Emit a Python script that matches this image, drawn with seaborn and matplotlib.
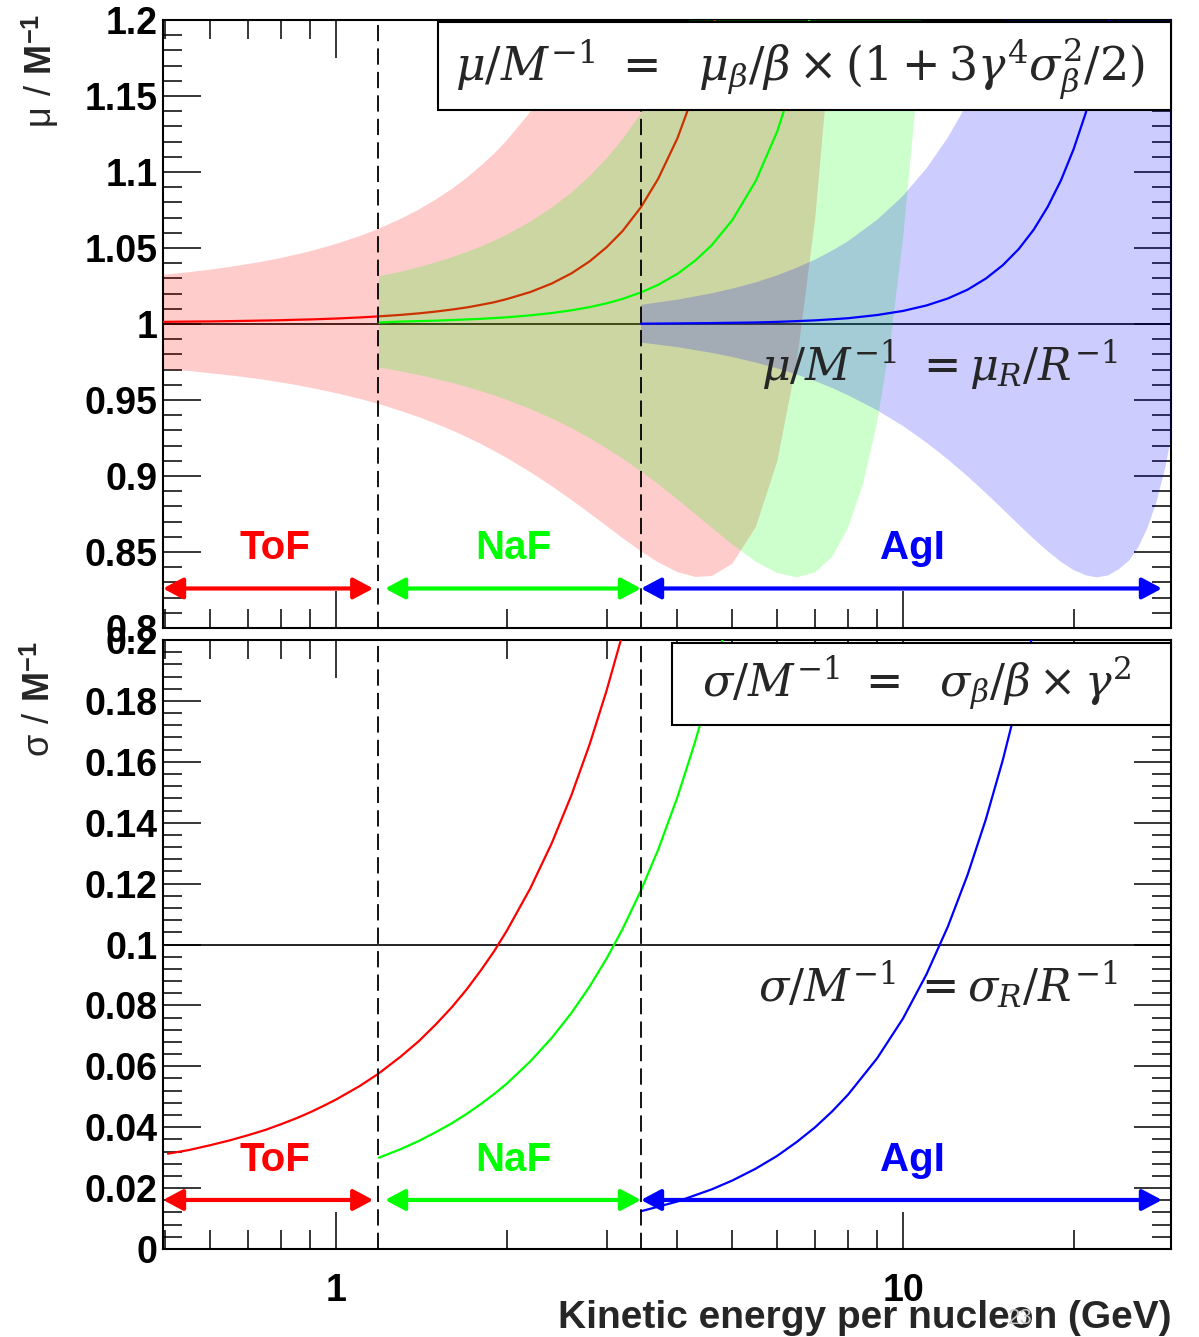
import numpy as np
import pandas as pd
import matplotlib
matplotlib.use("Agg")
import matplotlib.pyplot as plt
import seaborn as sns
from matplotlib.ticker import MultipleLocator, FormatStrFormatter, LogLocator, NullFormatter
from matplotlib.patches import Rectangle, ArrowStyle

# ---------------- data ----------------
x_limits = [0.495, 29.7]
detector_names = ["ToF", "NaF", "AgI"]
detector_colors = ["#FF0000", "#00FF00", "#0000FF"]
detector_edges = [0.495, 1.186, 3.45, 29.7]
label_x = [0.78, 2.05, 10.4]

# --- ToF (red) ---
tof_band_x = [0.495, 0.55, 0.6, 0.65, 0.7, 0.75, 0.8, 0.85, 0.9, 0.95, 1.0, 1.1, 1.186, 1.3, 1.4,
              1.5, 1.6, 1.7, 1.8, 1.9, 2.0, 2.2, 2.4, 2.6, 2.8, 3.0, 3.2, 3.45, 3.7, 4.0, 4.3, 4.6,
              5.0, 5.5, 6.0, 6.5, 7.0, 7.5, 7.6]
tof_band_hi = [1.0324, 1.0341, 1.0358, 1.0376, 1.0395, 1.0414, 1.0435, 1.0457, 1.0479, 1.0503,
               1.0527, 1.0578, 1.0625, 1.0692, 1.0753, 1.0820, 1.0889, 1.0962, 1.1041, 1.1121,
               1.1209, 1.1394, 1.1598, 1.1823, 1.2069, 1.2339, 1.2630, 1.3033, 1.3480, 1.4076,
               1.4746, 1.5498, 1.6635, 1.8300, 2.0272, 2.2591, 2.5297, 2.8435, 2.9122]
tof_band_lo = [0.9704, 0.9691, 0.9676, 0.9662, 0.9647, 0.9632, 0.9615, 0.9599, 0.9581, 0.9563,
               0.9545, 0.9508, 0.9475, 0.9428, 0.9387, 0.9344, 0.9301, 0.9256, 0.9211, 0.9165,
               0.9119, 0.9026, 0.8934, 0.8843, 0.8755, 0.8671, 0.8592, 0.8505, 0.8432, 0.8368,
               0.8336, 0.8342, 0.8423, 0.8664, 0.9096, 0.9759, 1.0695, 1.1949, 1.2244]
tof_mu_x = [0.495, 0.55, 0.6, 0.65, 0.7, 0.75, 0.8, 0.85, 0.9, 0.95, 1.0, 1.1, 1.186, 1.3, 1.4,
            1.5, 1.6, 1.7, 1.8, 1.9, 2.0, 2.2, 2.4, 2.6, 2.8, 3.0, 3.2, 3.45, 3.7, 4.0, 4.3, 4.6, 4.7]
tof_mu_y = [1.0014, 1.0016, 1.0017, 1.0019, 1.0021, 1.0023, 1.0025, 1.0028, 1.0030, 1.0033,
            1.0036, 1.0043, 1.0050, 1.0060, 1.0070, 1.0082, 1.0095, 1.0109, 1.0126, 1.0143,
            1.0164, 1.0210, 1.0266, 1.0333, 1.0412, 1.0505, 1.0611, 1.0769, 1.0956, 1.1222,
            1.1541, 1.1920, 1.2060]
tof_sig_x = [0.505, 0.55, 0.6, 0.65, 0.7, 0.75, 0.8, 0.85, 0.9, 0.95, 1.0, 1.1, 1.186, 1.3, 1.4,
             1.5, 1.6, 1.7, 1.8, 1.9, 2.0, 2.2, 2.4, 2.6, 2.8, 3.0, 3.2]
tof_sig_y = [0.0313, 0.0325, 0.0341, 0.0357, 0.0374, 0.0391, 0.0410, 0.0429, 0.0449, 0.0470,
             0.0491, 0.0535, 0.0575, 0.0632, 0.0683, 0.0738, 0.0794, 0.0853, 0.0915, 0.0978,
             0.1045, 0.1184, 0.1332, 0.1490, 0.1657, 0.1834, 0.2019]

# --- NaF (green) ---
naf_band_x = [1.19, 1.3, 1.4, 1.5, 1.6, 1.7, 1.8, 1.9, 2.0, 2.2, 2.4, 2.6, 2.8, 3.0, 3.2, 3.45,
              3.7, 4.0, 4.3, 4.6, 5.0, 5.5, 6.0, 6.5, 7.0, 7.5, 8.0, 8.5, 9.0, 9.5, 10, 10.5, 11]
naf_band_hi = [1.0314, 1.0344, 1.0374, 1.0406, 1.0439, 1.0474, 1.0509, 1.0548, 1.0587, 1.0673,
               1.0765, 1.0865, 1.0973, 1.1090, 1.1215, 1.1386, 1.1570, 1.1814, 1.2084, 1.2379,
               1.2819, 1.3448, 1.4173, 1.5005, 1.5958, 1.7043, 1.8273, 1.9662, 2.1225, 2.2977,
               2.4936, 2.7117, 2.9543]
naf_band_lo = [0.9714, 0.9688, 0.9664, 0.9638, 0.9613, 0.9586, 0.9558, 0.9530, 0.9501, 0.9441,
               0.9379, 0.9315, 0.9249, 0.9182, 0.9115, 0.9031, 0.8946, 0.8846, 0.8750, 0.8659,
               0.8549, 0.8437, 0.8361, 0.8333, 0.8366, 0.8469, 0.8659, 0.8948, 0.9351, 0.9883,
               1.0562, 1.1403, 1.2427]
naf_mu_x = [1.19, 1.3, 1.4, 1.5, 1.6, 1.7, 1.8, 1.9, 2.0, 2.2, 2.4, 2.6, 2.8, 3.0, 3.2, 3.45,
            3.7, 4.0, 4.3, 4.6, 5.0, 5.5, 6.0, 6.5, 7.0]
naf_mu_y = [1.0010, 1.0016, 1.0019, 1.0022, 1.0026, 1.0030, 1.0034, 1.0039, 1.0044, 1.0057,
            1.0072, 1.0090, 1.0111, 1.0136, 1.0165, 1.0208, 1.0258, 1.0330, 1.0417, 1.0519,
            1.0684, 1.0942, 1.1267, 1.1669, 1.2162]
naf_sig_x = [1.19, 1.3, 1.4, 1.5, 1.6, 1.7, 1.8, 1.9, 2.0, 2.2, 2.4, 2.6, 2.8, 3.0, 3.2, 3.45,
             3.7, 4.0, 4.3, 4.6, 5.0]
naf_sig_y = [0.0300, 0.0328, 0.0355, 0.0384, 0.0413, 0.0444, 0.0476, 0.0509, 0.0543, 0.0616,
             0.0693, 0.0775, 0.0862, 0.0954, 0.1050, 0.1178, 0.1312, 0.1484, 0.1667, 0.1860,
             0.2135]

# --- AgI (blue) ---
agl_band_x = [3.45, 4.0, 4.6, 5.0, 5.5, 6.0, 6.5, 7.0, 7.5, 8.0, 9.0, 10, 11, 12, 13, 14, 15, 16,
              17, 18, 19, 20, 21, 22, 23, 24, 25, 26, 27, 28, 29, 29.7]
agl_band_hi = [1.0126, 1.0160, 1.0202, 1.0233, 1.0274, 1.0320, 1.0371, 1.0424, 1.0483, 1.0545,
               1.0685, 1.0843, 1.1024, 1.1227, 1.1455, 1.1710, 1.1993, 1.2306, 1.2653, 1.3038,
               1.3458, 1.3921, 1.4427, 1.4981, 1.5585, 1.6244, 1.6957, 1.7735, 1.8575, 1.9486,
               2.0468, 2.1201]
agl_band_lo = [0.9878, 0.9848, 0.9810, 0.9783, 0.9746, 0.9708, 0.9667, 0.9624, 0.9579, 0.9531,
               0.9433, 0.9329, 0.9220, 0.9109, 0.8998, 0.8888, 0.8781, 0.8680, 0.8587, 0.8505,
               0.8435, 0.8381, 0.8347, 0.8333, 0.8346, 0.8386, 0.8440, 0.8530, 0.8660, 0.8830,
               0.9050, 0.9250]
agl_mu_x = [3.45, 4.0, 4.6, 5.0, 5.5, 6.0, 6.5, 7.0, 7.5, 8.0, 9.0, 10, 11, 12, 13, 14, 15, 16,
            17, 18, 19, 20, 21, 22, 23, 23.3]
agl_mu_y = [1.0002, 1.0004, 1.0006, 1.0008, 1.0010, 1.0014, 1.0019, 1.0024, 1.0031, 1.0038,
            1.0059, 1.0086, 1.0122, 1.0168, 1.0226, 1.0299, 1.0387, 1.0493, 1.0620, 1.0771,
            1.0946, 1.1151, 1.1387, 1.1657, 1.1965, 1.2066]
agl_sig_x = [3.45, 4.0, 4.6, 5.0, 5.5, 6.0, 6.5, 7.0, 7.5, 8.0, 9.0, 10, 11, 12, 13, 14, 15, 16, 17]
agl_sig_y = [0.0124, 0.0156, 0.0196, 0.0225, 0.0264, 0.0306, 0.0352, 0.0400, 0.0452, 0.0507,
             0.0626, 0.0757, 0.0902, 0.1059, 0.1229, 0.1411, 0.1606, 0.1813, 0.2033]

top_ref_level = 1.0
bottom_ref_level = 0.1
top_arrow_y = 0.826
bottom_arrow_y = 0.0161
top_label_y = 0.8526
bottom_label_y = 0.0293

# ---------------- style ----------------
sns.set_theme(style="ticks")
plt.rcParams.update({
    "font.family": ["Liberation Sans", "DejaVu Sans"],
    "font.weight": "bold",
    "mathtext.fontset": "custom",
    "mathtext.rm": "DejaVu Serif:normal",
    "mathtext.it": "DejaVu Serif:italic:normal",
    "mathtext.bf": "Liberation Sans:bold",
    "mathtext.sf": "Liberation Sans:normal",
    "axes.linewidth": 1.5,
    "axes.edgecolor": "black",
})

W, H = 1199, 1337
fig = plt.figure(figsize=(W / 100, H / 100), dpi=100)
ax1 = fig.add_axes([163 / W, 1 - 628 / H, 1008 / W, 608 / H])
ax2 = fig.add_axes([163 / W, 1 - 1249 / H, 1008 / W, 609 / H])

band_sets = [(tof_band_x, tof_band_lo, tof_band_hi),
             (naf_band_x, naf_band_lo, naf_band_hi),
             (agl_band_x, agl_band_lo, agl_band_hi)]
mu_sets = [(tof_mu_x, tof_mu_y), (naf_mu_x, naf_mu_y), (agl_mu_x, agl_mu_y)]
sig_sets = [(tof_sig_x, tof_sig_y), (naf_sig_x, naf_sig_y), (agl_sig_x, agl_sig_y)]

for ax in (ax1, ax2):
    ax.set_xscale("log")
    ax.set_xlim(*x_limits)
    ax.set_facecolor("white")

# top panel
ax1.set_ylim(0.8, 1.2)
ax1.axhline(top_ref_level, color="black", lw=1.2, zorder=1)
for i, ((bx, blo, bhi), (mx, my), c) in enumerate(zip(band_sets, mu_sets, detector_colors)):
    ax1.fill_between(bx, blo, bhi, color=c, alpha=0.2, lw=0, zorder=2 + 2 * i)
    sns.lineplot(x=mx, y=my, ax=ax1, color=c, lw=1.6, estimator=None, sort=False,
                 zorder=3 + 2 * i)

# bottom panel
ax2.set_ylim(0, 0.2)
ax2.axhline(bottom_ref_level, color="black", lw=1.2, zorder=1)
for (sx, sy), c in zip(sig_sets, detector_colors):
    sns.lineplot(x=sx, y=sy, ax=ax2, color=c, lw=1.6, estimator=None, sort=False, zorder=3)

shrink_a = [0, 5, 0]
shrink_b = [3.5, 0, 6.5]
arrow_style = ArrowStyle("<|-|>", head_length=0.6, head_width=0.32)
for ax, ay, ly in ((ax1, top_arrow_y, top_label_y), (ax2, bottom_arrow_y, bottom_label_y)):
    for b in detector_edges[1:3]:
        ax.axvline(b, color="black", lw=1.3, ls=(0, (9, 4)), zorder=8)
    for i, (name, c) in enumerate(zip(detector_names, detector_colors)):
        ax.annotate("", xy=(detector_edges[i + 1], ay), xytext=(detector_edges[i], ay),
                    arrowprops=dict(arrowstyle=arrow_style, color=c, lw=3, mutation_scale=20,
                                    shrinkA=shrink_a[i], shrinkB=shrink_b[i]),
                    zorder=9, annotation_clip=False)
        ax.text(label_x[i], ly, name, color=c, fontsize=29, fontweight="bold",
                ha="center", va="center", zorder=9)

# ticks
for ax in (ax1, ax2):
    ax.xaxis.set_major_locator(LogLocator(base=10, subs=(1.0,)))
    ax.xaxis.set_minor_locator(LogLocator(base=10, subs=np.arange(2, 10)))
    ax.xaxis.set_minor_formatter(NullFormatter())
    ax.tick_params(which="both", direction="in", top=True, right=True, colors="black")
    ax.tick_params(which="major", length=27, width=1.1, labelsize=27, pad=4)
    ax.tick_params(which="minor", length=14, width=1.1)
    for s in ax.spines.values():
        s.set_visible(True)
        s.set_linewidth(1.5)
        s.set_color("black")

ax1.yaxis.set_major_locator(MultipleLocator(0.05))
ax1.yaxis.set_minor_locator(MultipleLocator(0.01))
ax1.yaxis.set_major_formatter(FormatStrFormatter("%g"))
ax1.tick_params(axis="x", labelbottom=False)

ax2.yaxis.set_major_locator(MultipleLocator(0.02))
ax2.yaxis.set_minor_locator(MultipleLocator(0.004))
ax2.yaxis.set_major_formatter(FormatStrFormatter("%g"))
ax2.xaxis.set_major_formatter(FormatStrFormatter("%g"))
ax2.tick_params(axis="x", which="major", pad=17)

ax2.set_xlabel("Kinetic energy per nucleon (GeV)", fontsize=28, fontweight="bold")
ax2.xaxis.set_label_coords(1.0, (1249 - 1318) / 609)
ax2.xaxis.label.set_ha("right")
ax2.xaxis.label.set_va("center")
ax1.set_ylabel("")
ax2.set_ylabel("")

fig.text(40 / W, 1 - 14 / H, r"$\mathsf{\mu}\ \mathsf{/}\ \mathbf{M}^{\mathbf{-1}}$",
         rotation=90, ha="center", va="top", fontsize=26)
fig.text(40 / W, 1 - 641 / H, r"$\mathsf{\sigma}\ \mathsf{/}\ \mathbf{M}^{\mathbf{-1}}$",
         rotation=90, ha="center", va="top", fontsize=26)

# formula boxes
def axfrac(ax_top_px, ax_h_px, px, py):
    return (px - 163) / 1008, (ax_top_px + ax_h_px - py) / ax_h_px

x0, y0 = axfrac(20, 608, 438, 110)
x1, y1 = axfrac(20, 608, 1171, 22)
ax1.add_patch(Rectangle((x0, y0), x1 - x0, y1 - y0, transform=ax1.transAxes,
                        fc="white", ec="black", lw=1.5, zorder=10, clip_on=False))
ax1.text((x0 + x1) / 2 - 0.005, (y0 + y1) / 2 - 0.004,
         r"$\mu/M^{-1}\ =\ \ \mu_{\beta}/\beta\times(1+3\gamma^{4}\sigma_{\beta}^{2}/2)$",
         transform=ax1.transAxes, ha="center", va="center", fontsize=33, zorder=11)

x0, y0 = axfrac(640, 609, 672, 725)
x1, y1 = axfrac(640, 609, 1171, 643)
ax2.add_patch(Rectangle((x0, y0), x1 - x0, y1 - y0, transform=ax2.transAxes,
                        fc="white", ec="black", lw=1.5, zorder=10, clip_on=False))
ax2.text((x0 + x1) / 2 - 0.005, (y0 + y1) / 2,
         r"$\sigma/M^{-1}\ =\ \ \sigma_{\beta}/\beta\times\gamma^{2}$",
         transform=ax2.transAxes, ha="center", va="center", fontsize=32, zorder=11)

ax1.text((1118 - 163) / 1008, (628 - 365) / 608, r"$\mu/M^{-1}\ =\mu_{R}/R^{-1}$",
         transform=ax1.transAxes, ha="right", va="center", fontsize=32, zorder=11)
ax2.text((1118 - 163) / 1008, (1249 - 985) / 609, r"$\sigma/M^{-1}\ =\sigma_{R}/R^{-1}$",
         transform=ax2.transAxes, ha="right", va="center", fontsize=32, zorder=11)

fig.text(1020 / W, 1 - 1318 / H, "23", color="#c8c8c8", fontsize=16, ha="center",
         va="center", fontweight="normal", zorder=20)

fig.savefig("out.png", dpi=100, facecolor="white")
